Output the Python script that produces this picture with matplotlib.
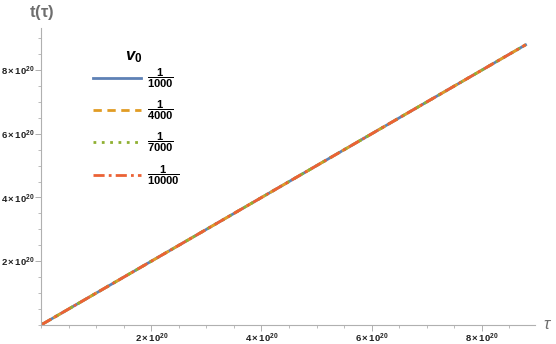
import numpy as np
import matplotlib.pyplot as plt
from matplotlib.ticker import MultipleLocator, FixedLocator

plt.rcParams['font.family'] = ['Liberation Sans', 'DejaVu Sans']
plt.rcParams['mathtext.fontset'] = 'custom'
plt.rcParams['mathtext.rm'] = 'Liberation Sans'
plt.rcParams['mathtext.it'] = 'Liberation Sans:italic'
plt.rcParams['mathtext.bf'] = 'Liberation Sans:bold'
plt.rcParams['mathtext.bfit'] = 'Liberation Sans:bold:italic'

# values
tau = np.array([0.0, 2.0e20, 4.0e20, 6.0e20, 8.0e20, 8.8e20])
t_1000 = np.array([0.0, 2.0e20, 4.0e20, 6.0e20, 8.0e20, 8.8e20])
t_4000 = np.array([0.0, 2.0e20, 4.0e20, 6.0e20, 8.0e20, 8.8e20])
t_7000 = np.array([0.0, 2.0e20, 4.0e20, 6.0e20, 8.0e20, 8.8e20])
t_10000 = np.array([0.0, 2.0e20, 4.0e20, 6.0e20, 8.0e20, 8.8e20])
labels = ['1000', '4000', '7000', '10000']
major_ticks = [2e20, 4e20, 6e20, 8e20]
tick_labels = [r'$\mathbf{2\times10^{20}}$', r'$\mathbf{4\times10^{20}}$',
               r'$\mathbf{6\times10^{20}}$', r'$\mathbf{8\times10^{20}}$']

colors = ['#5E81B5', '#E19C24', '#8FB032', '#EB6235']
styles = ['-', (0, (3, 2)), (0, (1, 2)), (0, (4, 1.5, 1, 1.5))]
series = [t_1000, t_4000, t_7000, t_10000]

fig = plt.figure(figsize=(5.56, 3.44), dpi=100)
ax = fig.add_axes([0.0746, 0.0561, 0.8874, 0.8625])

for ys, c, ls, lab in zip(series, colors, styles, labels):
    ax.plot(tau, ys, color=c, linestyle=ls, linewidth=2,
            label=r'$\mathbf{\dfrac{1}{%s}}$' % lab)

ax.set_xlim(0, 8.97e20)
ax.set_ylim(0, 9.33e20)

for side in ['top', 'right']:
    ax.spines[side].set_visible(False)
for side in ['left', 'bottom']:
    ax.spines[side].set_color('#b0b0b0')
    ax.spines[side].set_linewidth(0.8)

ax.xaxis.set_major_locator(FixedLocator(major_ticks))
ax.yaxis.set_major_locator(FixedLocator(major_ticks))
ax.set_xticklabels(tick_labels)
ax.set_yticklabels(tick_labels)
ax.xaxis.set_minor_locator(MultipleLocator(0.5e20))
ax.yaxis.set_minor_locator(MultipleLocator(0.5e20))
ax.tick_params(which='major', length=4, width=0.7, color='#b0b0b0',
               labelsize=6.8, labelcolor='#222222', pad=1)
ax.tick_params(which='minor', length=2, width=0.6, color='#b0b0b0')

fig.text(0.0746, 0.965, r'$\mathbf{t(\tau)}$', color='#6e6e6e', fontsize=12,
         ha='center', va='center')
fig.text(0.985, 0.058, r'$\mathit{\tau}$', color='#6e6e6e', fontsize=12,
         ha='center', va='center')

# legend title placed as its own text, entries below it
fig.text(0.241, 0.834, r'$\mathbfit{v}_\mathbf{0}$', fontsize=12,
         ha='center', va='center')
leg = ax.legend(loc='upper left', bbox_to_anchor=(0.085, 0.905), frameon=False,
                fontsize=8, handlelength=4.3, labelspacing=0.8,
                handletextpad=0.5)

fig.savefig('out.png', dpi=100)
